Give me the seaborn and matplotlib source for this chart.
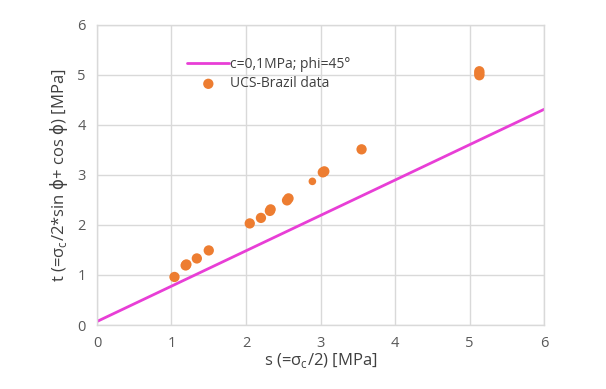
import numpy as np
import pandas as pd
import matplotlib
matplotlib.use("Agg")
import matplotlib.pyplot as plt
import seaborn as sns

# Mohr-Coulomb envelope (c=0,1MPa; phi=45°)
line_s = [0.0, 6.0]
line_t = [0.07, 4.31]

# UCS-Brazil test points
data_s = [1.04, 1.19, 1.20, 1.34, 1.50, 2.05, 2.20, 2.32, 2.33, 2.55, 2.57, 2.89, 3.03, 3.05, 3.55, 5.13, 5.13, 5.13]
data_t = [0.96, 1.19, 1.21, 1.33, 1.49, 2.03, 2.14, 2.28, 2.31, 2.49, 2.53, 2.87, 3.05, 3.07, 3.51, 4.99, 5.03, 5.07]
small = [False] * len(data_s)
small[11] = True

x_ticks = [0, 1, 2, 3, 4, 5, 6]
y_ticks = [0, 1, 2, 3, 4, 5, 6]

sns.set_theme(style="whitegrid")
plt.rcParams["font.family"] = ["Open Sans", "DejaVu Sans"]
plt.rcParams["mathtext.fontset"] = "custom"
plt.rcParams["mathtext.rm"] = "Open Sans"
plt.rcParams["mathtext.it"] = "DejaVu Sans"

df_line = pd.DataFrame({"s": line_s, "t": line_t})
df_pts = pd.DataFrame({"s": data_s, "t": data_t, "small": small})

fig = plt.figure(figsize=(6.06, 3.89), dpi=100)
ax = fig.add_axes([0.160, 0.1645, 0.738, 0.772])

sns.lineplot(data=df_line, x="s", y="t", color="#e83ed6", linewidth=2.0,
             label="c=0,1MPa; phi=45°", ax=ax, zorder=2)
big = df_pts[~df_pts["small"]]
sns.scatterplot(data=big, x="s", y="t", color="#ed7d31", s=55, edgecolor="none",
                label="UCS-Brazil data", ax=ax, zorder=3)
sns.scatterplot(data=df_pts[df_pts["small"]], x="s", y="t", color="#ed7d31", s=30,
                edgecolor="none", ax=ax, zorder=3, legend=False)

ax.set_xlim(0, 6)
ax.set_ylim(0, 6)
ax.set_xticks(x_ticks)
ax.set_yticks(y_ticks)
ax.grid(True, color="#d9d9d9", linewidth=1.0)
for sp in ax.spines.values():
    sp.set_color("#d9d9d9")
    sp.set_linewidth(1.0)
ax.tick_params(axis="both", length=0, labelsize=10.5, colors="#595959", pad=8)

ax.set_xlabel("s (=σ$_{\\mathrm{c}}$/2) [MPa]", fontsize=12, color="#404040", labelpad=0)
ax.set_ylabel("t (=σ$_{\\mathrm{c}}$/2*sin $\\phi$+ cos $\\phi$) [MPa]", fontsize=12,
              color="#404040", labelpad=5)

leg = ax.legend(loc="upper left", bbox_to_anchor=(0.19, 0.91), frameon=False,
                fontsize=10, handlelength=3.0, handletextpad=0.05,
                borderaxespad=0, labelspacing=0.3)
for t in leg.get_texts():
    t.set_color("#404040")

fig.savefig("out.png", dpi=100)
